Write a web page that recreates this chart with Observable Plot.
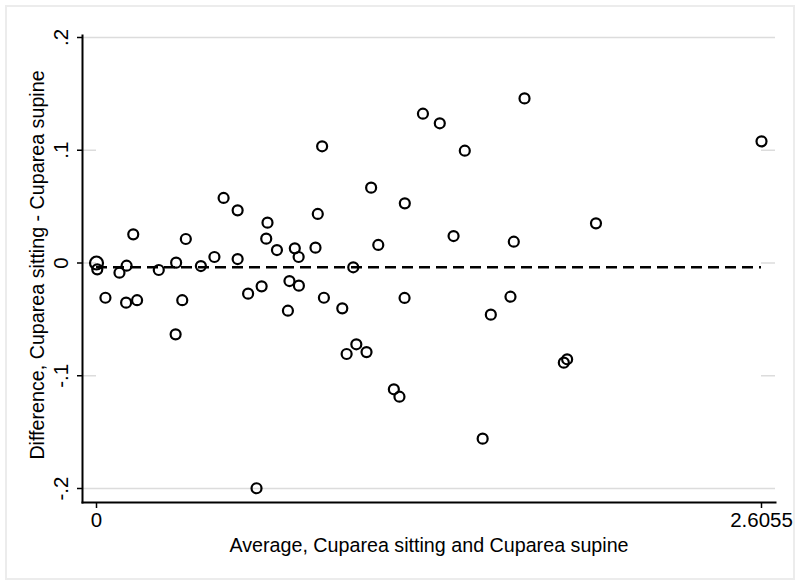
<!DOCTYPE html>
<html><head><meta charset="utf-8">
<script src="https://cdn.jsdelivr.net/npm/d3@7"></script>
<script src="https://cdn.jsdelivr.net/npm/@observablehq/plot@0.6"></script>
<style>
body{margin:0;background:#fff;}
#wrap{position:relative;width:800px;height:584px;}
#border{position:absolute;left:5px;top:5px;width:786px;height:571px;border:2px solid #ececec;pointer-events:none;}
</style></head><body><div id="wrap"><div id="border"></div></div>
<script>
// Average of the two measurements (x) and difference (y)
const avg = [0, 0.003, 0.035, 0.090, 0.118, 0.116, 0.144, 0.159, 0.244, 0.312,
  0.310, 0.336, 0.350, 0.409, 0.462, 0.498, 0.553, 0.553, 0.594, 0.647,
  0.670, 0.665, 0.707, 0.756, 0.750, 0.777, 0.792, 0.793, 0.858, 0.867,
  0.884, 0.891, 0.963, 1.006, 1.076, 1.104, 1.018, 0.980, 1.058, 0.627,
  1.208, 1.207, 1.279, 1.345, 1.443, 1.399, 1.545, 1.622, 1.635, 1.677,
  1.831, 1.844, 1.957, 1.165, 1.187, 1.513, 2.6055];
const diff = [0, -0.0056, -0.0308, -0.0086, -0.0024, -0.0352, 0.0254, -0.033, -0.0062, 0.0003,
  -0.0633, -0.033, 0.0213, -0.0027, 0.0053, 0.0577, 0.0467, 0.0035, -0.0272, -0.0207,
  0.0358, 0.0216, 0.0115, -0.016, -0.0423, 0.013, 0.0053, -0.0201, 0.0136, 0.0435,
  0.1035, -0.0308, -0.0402, -0.0038, 0.0668, 0.016, -0.0721, -0.0807, -0.079, -0.1998,
  0.0529, -0.031, 0.1324, 0.1239, 0.0996, 0.0239, -0.0458, -0.0299, 0.0189, 0.146,
  -0.0884, -0.0854, 0.0352, -0.112, -0.1186, -0.1558, 0.1079];
// frequency weight (the point at the origin is drawn larger)
const freq = [2].concat(Array(avg.length - 1).fill(1));
const meanDiff = -0.0038;

const xTicks = [0, 2.6055];
const xTickLabels = ["0", "2.6055"];
const yTicks = [-0.2, -0.1, 0, 0.1, 0.2];
const yTickLabels = ["-.2", "-.1", "0", ".1", ".2"];
const xTitle = "Average, Cuparea sitting and Cuparea supine";
const yTitle = "Difference, Cuparea sitting - Cuparea supine";

const pts = avg.map((a, i) => ({a, d: diff[i], f: freq[i]}));
const font = "'Liberation Sans', Arial, Helvetica, sans-serif";
const fs = 20.5;   // tick labels
const fsT = 19.7;  // axis titles

const chart = Plot.plot({
  width: 800, height: 584,
  marginLeft: 82, marginRight: 25, marginTop: 35, marginBottom: 82,
  insetLeft: 14, insetRight: 14, insetTop: 2, insetBottom: 14,
  style: {fontFamily: font, fontSize: fs + "px", color: "#000", background: "transparent", overflow: "visible"},
  x: {domain: [xTicks[0], xTicks[1]]},
  y: {domain: [yTicks[0], yTicks[yTicks.length - 1]]},
  r: {type: "identity"},
  marks: [
    Plot.gridY(yTicks, {stroke: "#dcdcdc", strokeOpacity: 1, strokeWidth: 1.5}),
    Plot.rect([0], {x1: xTicks[0], x2: xTicks[1], y1: yTicks[1] - 0.05, y2: yTicks[3] + 0.05, fill: "white"}),
    Plot.frame({anchor: "left", stroke: "#000", strokeWidth: 2}),
    Plot.frame({anchor: "bottom", stroke: "#000", strokeWidth: 2}),
    Plot.axisY(yTicks, {tickSize: 5, tickPadding: 10, tickRotate: -90, strokeWidth: 1.5,
      tickFormat: d => yTickLabels[yTicks.indexOf(d)], label: null, fontSize: fs}),
    Plot.axisX(xTicks, {tickSize: 6, tickPadding: 4, strokeWidth: 1.5,
      tickFormat: d => xTickLabels[xTicks.indexOf(d)], label: null, fontSize: fs}),
    Plot.ruleY([meanDiff], {x1: xTicks[0], x2: xTicks[1], stroke: "#000", strokeWidth: 2.4, strokeDasharray: "11,6"}),
    Plot.dot(pts, {x: "a", y: "d", r: d => d.f > 1 ? 6.5 : 5, stroke: "#000", strokeWidth: 2.2, fill: "none"}),
    Plot.text([xTitle], {text: d => d, frameAnchor: "bottom", dy: 43, lineAnchor: "middle", textAnchor: "middle", fontSize: fsT}),
    Plot.text([yTitle], {text: d => d, frameAnchor: "left", dx: -45, dy: -4, rotate: -90, lineAnchor: "middle", textAnchor: "middle", fontSize: fsT})
  ]
});
document.getElementById("wrap").prepend(chart);
</script>
</body></html>
